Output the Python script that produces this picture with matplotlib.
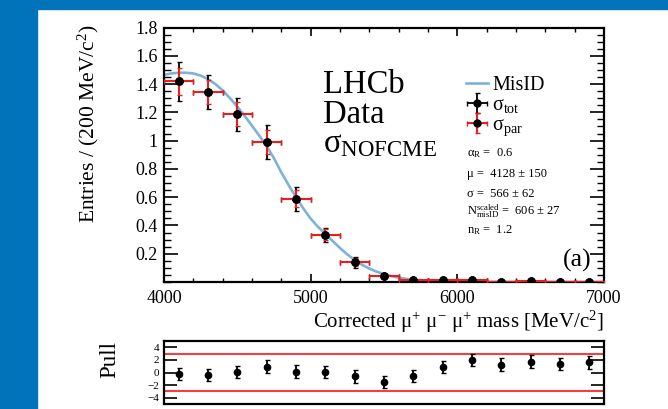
import matplotlib
matplotlib.use("Agg")
import matplotlib.pyplot as plt
from matplotlib.patches import Rectangle
from matplotlib.ticker import MultipleLocator
import numpy as np

plt.rcParams['font.family'] = ['Liberation Serif', 'DejaVu Serif']
plt.rcParams['mathtext.fontset'] = 'custom'
plt.rcParams['mathtext.rm'] = 'Liberation Serif'
plt.rcParams['mathtext.it'] = 'Liberation Serif:italic'
plt.rcParams['mathtext.bf'] = 'Liberation Serif:bold'

# ---- data ----
bin_centers = [4100, 4300, 4500, 4700, 4900, 5100, 5300, 5500, 5700, 5900, 6100, 6300, 6500, 6700, 6900]
bin_halfwidth = [100] * 15
entries = [1.42, 1.342, 1.186, 0.99, 0.588, 0.335, 0.14, 0.044, 0.014, 0.014, 0.014, 0.002, 0.004, 0.001, 0.001]
err_tot = [0.138, 0.12, 0.115, 0.12, 0.084, 0.05, 0.04, 0.015, 0.008, 0.008, 0.008, 0.004, 0.004, 0.003, 0.003]
err_par = [0.095, 0.085, 0.085, 0.086, 0.06, 0.04, 0.03, 0.012, 0.006, 0.006, 0.006, 0.003, 0.003, 0.002, 0.002]

curve_x = [4000, 4050, 4100, 4150, 4200, 4250, 4300, 4350, 4400, 4450, 4500, 4550, 4600, 4650,
           4700, 4750, 4800, 4850, 4900, 4950, 5000, 5050, 5100, 5150, 5200, 5250, 5300, 5350,
           5400, 5450, 5500, 5550, 5600, 5650, 5700, 5750, 5800, 5850, 5900, 6000, 6500, 7000]
curve_y = [1.465, 1.475, 1.480, 1.480, 1.475, 1.460, 1.435, 1.400, 1.355, 1.300, 1.240, 1.175,
           1.105, 1.035, 0.960, 0.875, 0.775, 0.685, 0.600, 0.520, 0.448, 0.390, 0.340, 0.290,
           0.240, 0.195, 0.155, 0.122, 0.095, 0.073, 0.056, 0.042, 0.031, 0.022, 0.016, 0.011,
           0.007, 0.005, 0.003, 0.001, 0.0, 0.0]

pull_values = [-0.26, -0.4, 0.05, 0.95, 0.15, 0.1, -0.63, -1.5, -0.58, 0.9, 2.0, 1.26, 1.74, 1.37, 1.63]
pull_err = [1.0] * 15

x_ticks = [4000, 5000, 6000, 7000]
y_ticks = [0.2, 0.4, 0.6, 0.8, 1.0, 1.2, 1.4, 1.6, 1.8]
y_ticklabels = ["0.2", "0.4", "0.6", "0.8", "1", "1.2", "1.4", "1.6", "1.8"]
pull_ticks = [-4, -2, 0, 2, 4]
pull_band = [-3, 3]

W, H = 668, 409
fig = plt.figure(figsize=(W / 100, H / 100), dpi=100)
fig.patch.set_facecolor('white')

blue = '#0073BA'
fig.patches.append(Rectangle((0, 0), 37 / W, 1, transform=fig.transFigure, color=blue, zorder=0))
fig.patches.append(Rectangle((0, 1 - 9 / H), 1, 9 / H, transform=fig.transFigure, color=blue, zorder=0))

def fx(px):
    return px / W

def fy(py):
    return 1 - py / H

ax = fig.add_axes([fx(164), fy(282), fx(604) - fx(164), fy(27.5) - fy(282)])
axp = fig.add_axes([fx(164), fy(404), fx(604) - fx(164), fy(341) - fy(404)])

# main panel
ax.plot(curve_x, curve_y, color='#7DB3D8', lw=1.9, zorder=2, label='MisID')
h_tot = ax.errorbar(bin_centers, entries, xerr=bin_halfwidth, yerr=err_tot, fmt='o', color='black',
                    ecolor='black', elinewidth=1.3, capsize=1.8, capthick=1.0, markersize=5, zorder=3,
                    label=r'σ$_{\mathregular{tot}}$')
h_par = ax.errorbar(bin_centers, entries, xerr=bin_halfwidth, yerr=err_par, fmt='o', color='black',
                    ecolor='#EE1C1C', elinewidth=1.5, capsize=1.8, capthick=1.0, markersize=5, zorder=4,
                    label=r'σ$_{\mathregular{par}}$')
ax.plot(bin_centers, entries, 'o', color='black', markersize=5, zorder=5)

ax.set_xlim(4000, 7000)
ax.set_ylim(0, 1.8)
ax.set_xticks(x_ticks)
ax.set_yticks(y_ticks)
ax.set_yticklabels(y_ticklabels)
ax.xaxis.set_minor_locator(MultipleLocator(200))
ax.yaxis.set_minor_locator(MultipleLocator(0.05))
ax.tick_params(axis='both', which='both', direction='in', top=True, right=True)
ax.tick_params(axis='x', which='major', length=5.5, width=1.2, labelsize=13, pad=5.5)
ax.tick_params(axis='x', which='minor', length=3, width=1.0)
ax.tick_params(axis='y', which='major', length=10, width=1.2, labelsize=13, pad=4.5)
ax.tick_params(axis='y', which='minor', length=5, width=1.0)
for s in ax.spines.values():
    s.set_linewidth(1.6)

leg = ax.legend(handles=[ax.lines[0], h_tot, h_par], loc='upper left',
                bbox_to_anchor=((466 - 164) / 440, (282 - 76) / 254.5), frameon=False,
                fontsize=14.5, handlelength=1.1, handletextpad=0.2, labelspacing=0.05,
                borderpad=0, borderaxespad=0)

# big labels
ax.text((322.7 - 164) / 440, (282 - 93.3) / 254.5, 'LHCb', transform=ax.transAxes,
        fontsize=23.5, ha='left', va='baseline')
ax.text((322.7 - 164) / 440, (282 - 123) / 254.5, 'Data', transform=ax.transAxes,
        fontsize=23.5, ha='left', va='baseline')
ax.text((322.7 - 164) / 440, (282 - 152) / 254.5, r'σ$_{\mathregular{NOFCME}}$', transform=ax.transAxes,
        fontsize=23.5, ha='left', va='baseline')

params = [r'α$_{\mathregular{R}}$ =  0.6',
          r'μ =  4128 ± 150',
          r'σ =  566 ± 62',
          r'N$^{\mathregular{scaled}}_{\mathregular{misID}}$ =  606 ± 27',
          r'n$_{\mathregular{R}}$ =  1.2']
param_base = [156.7, 176.7, 196.7, 215, 233]
for t, b in zip(params, param_base):
    ax.text((466.7 - 164) / 440, (282 - b) / 254.5, t, transform=ax.transAxes,
            fontsize=9, ha='left', va='baseline')

ax.text((577 - 164) / 440, (282 - 260) / 254.5, '(a)', transform=ax.transAxes,
        fontsize=18.5, ha='center', va='center')

fig.text(fx(604), fy(328), r'Corrected μ$^{+}$ μ$^{-}$ μ$^{+}$ mass [MeV/c$^{2}$]',
         ha='right', va='baseline', fontsize=15)
fig.text(fx(88), fy(24), r'Entries / (200 MeV/c$^{2}$)', rotation=90,
         ha='center', va='top', fontsize=15.5)

# pull panel
for b in pull_band:
    axp.axhline(b, color='#F04040', lw=1.5, zorder=1)
axp.errorbar(bin_centers, pull_values, yerr=pull_err, fmt='o', color='black', ecolor='black',
             elinewidth=1.3, capsize=1.8, capthick=1.0, markersize=4.5, zorder=3)
axp.set_xlim(4000, 7000)
axp.set_ylim(-5, 5)
axp.set_yticks(pull_ticks)
axp.set_yticklabels(['−4', '−2', '0', '2', '4'])
axp.set_xticks([])
axp.tick_params(axis='y', which='major', direction='in', right=True, length=9.5, width=1.2,
                labelsize=8, pad=3.5)
for s in axp.spines.values():
    s.set_linewidth(1.6)
fig.text(fx(110), fy(360), 'Pull', rotation=90, ha='center', va='center', fontsize=16.5)

fig.savefig('out.png', dpi=100)
